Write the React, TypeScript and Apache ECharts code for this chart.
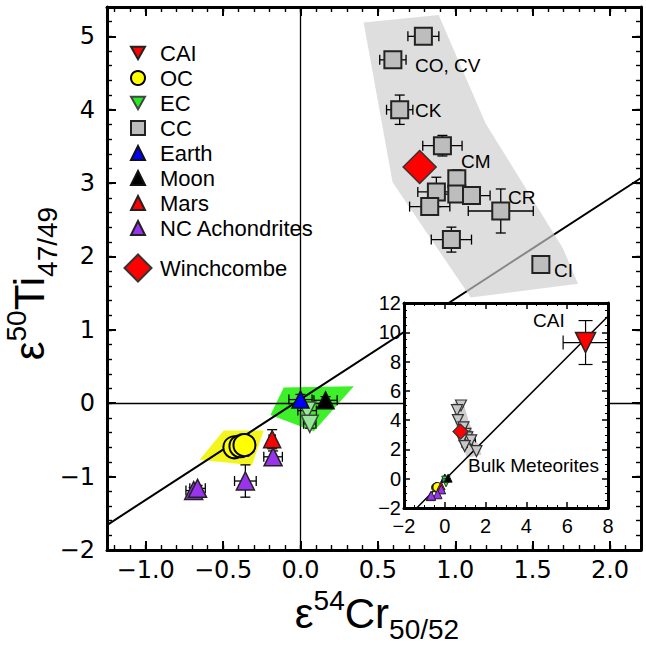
import React, { useEffect, useRef } from 'react';
import * as echarts from 'echarts';

// ---------- data: [x, y, xErr, yErr] ----------
const CAI = [[6.9, 9.3, 1.1, 1.5]];
const OC = [[-0.427, -0.6, 0, 0.1], [-0.388, -0.586, 0, 0.1], [-0.362, -0.57, 0, 0.15]];
const EC = [[0.043, -0.1, 0.06, 0.08], [0.06, -0.28, 0.04, 0.06]];
const EARTH = [[0, 0.05, 0.075, 0.07]];
const MOON = [[0.162, 0.04, 0.075, 0.05]];
const MARS = [[-0.183, -0.49, 0.02, 0.13]];
const NCA = [[-0.177, -0.73, 0.06, 0.08], [-0.356, -1.06, 0.07, 0.22], [-0.69, -1.19, 0.05, 0.04], [-0.665, -1.16, 0.05, 0.04]];
const CC = [
  [0.794, 5.0, 0.1, 0], [0.597, 4.68, 0.085, 0], [0.641, 4.0, 0.085, 0.2], [0.917, 3.51, 0.127, 0.14],
  [1.01, 3.06, 0, 0.12], [0.878, 2.88, 0.12, 0.2], [1.01, 2.85, 0.1, 0.1], [1.105, 2.83, 0.12, 0.1],
  [0.835, 2.68, 0.13, 0.08], [1.294, 2.62, 0.21, 0.3], [0.975, 2.23, 0.13, 0.17], [1.553, 1.89, 0, 0],
];
const WINCHCOMBE = [[0.77, 3.22, 0, 0]];

// shaded fields
const CC_FIELD = [[0.408, 5.19], [0.893, 5.29], [1.197, 3.81], [1.696, 2.11], [1.793, 1.63], [1.1, 1.44], [0.595, 3.01]];
const EC_FIELD = [[-0.108, 0.214], [0.345, 0.23], [0.086, -0.38], [-0.194, -0.16]];
const OC_FIELD = [[-0.496, -0.37], [-0.238, -0.37], [-0.313, -0.845], [-0.652, -0.77]];

// reference lines
const MAIN_LINE = [[-1.25, -1.66], [2.2, 3.07]];
const INSET_LINE = [[-1.38, -2], [8, 11.1]];

// axis ranges / ticks
const X_RANGE = [-1.25, 2.2];
const Y_RANGE = [-2, 5.4];
const INSET_X = [-2, 8];
const INSET_Y = [-2, 12];

const LEGEND_MAIN = ['CAI', 'OC', 'EC', 'CC', 'Earth', 'Moon', 'Mars', 'NC Achondrites'];
const LEGEND_W = ['Winchcombe'];

const DOWN = 'path://M0,0L20,0L10,18Z';
const SANS = 'Liberation Sans';
const TICKFONT = 'DejaVu Sans';

function errSeries(name: string, data: number[][], xi: number, yi: number, cap: number, z: number, lw = 1.3) {
  return {
    type: 'custom', name, xAxisIndex: xi, yAxisIndex: yi, z, silent: true,
    data, dimensions: ['x', 'y', 'xe', 'ye'], encode: { x: 0, y: 1 },
    renderItem: (params: any, api: any) => {
      const x = api.value(0), y = api.value(1), xe = api.value(2), ye = api.value(3);
      const style = { stroke: '#000', lineWidth: lw };
      const ch: any[] = [];
      const ln = (x1: number, y1: number, x2: number, y2: number) => ch.push({ type: 'line', shape: { x1, y1, x2, y2 }, style });
      if (xe > 0) {
        const a = api.coord([x - xe, y]), b = api.coord([x + xe, y]);
        ln(a[0], a[1], b[0], b[1]);
        ln(a[0], a[1] - cap / 2, a[0], a[1] + cap / 2);
        ln(b[0], b[1] - cap / 2, b[0], b[1] + cap / 2);
      }
      if (ye > 0) {
        const a = api.coord([x, y - ye]), b = api.coord([x, y + ye]);
        ln(a[0], a[1], b[0], b[1]);
        ln(a[0] - cap / 2, a[1], a[0] + cap / 2, a[1]);
        ln(b[0] - cap / 2, b[1], b[0] + cap / 2, b[1]);
      }
      return { type: 'group', children: ch };
    },
  };
}

function polySeries(name: string, pts: number[][], xi: number, yi: number, fill: string, z: number) {
  return {
    type: 'custom', name, xAxisIndex: xi, yAxisIndex: yi, z, silent: true,
    data: pts, encode: { x: 0, y: 1 },
    renderItem: (params: any, api: any) => {
      if (params.dataIndex !== 0) return null;
      return { type: 'polygon', shape: { points: pts.map((p) => api.coord(p)) }, style: { fill, stroke: 'none' } };
    },
  };
}

function scat(name: string, data: number[][], xi: number, yi: number, symbol: string, size: number, color: string, z: number, border = '#222', bw = 1.5) {
  return {
    type: 'scatter', name, xAxisIndex: xi, yAxisIndex: yi, z, silent: true,
    data: data.map((d) => [d[0], d[1]]), symbol, symbolSize: size,
    itemStyle: { color, borderColor: border, borderWidth: bw, opacity: 1 },
    emphasis: { disabled: true },
  };
}

function lineSeries(name: string, pts: number[][], xi: number, yi: number, z: number, width: number, zeroColor: string, zeroWidth: number) {
  return {
    type: 'line', name, xAxisIndex: xi, yAxisIndex: yi, z, silent: true,
    data: pts, showSymbol: false, symbol: 'none',
    lineStyle: { color: '#000', width },
    markLine: {
      silent: true, symbol: ['none', 'none'], label: { show: false },
      lineStyle: { color: zeroColor, width: zeroWidth, type: 'solid' },
      emphasis: { disabled: true },
      data: [{ xAxis: 0 }, { yAxis: 0 }],
    },
  };
}

const fmtX = (v: number) => v.toFixed(1).replace('-', '\u2212');
const fmtY = (v: number) => String(Math.round(v * 100) / 100).replace('-', '\u2212');

function mainAxis(pos: string, range: number[], major: boolean, labels: boolean, extra: any) {
  return {
    type: 'value', gridIndex: 0, position: pos, min: range[0], max: range[1],
    axisLine: { show: major, onZero: false, lineStyle: { color: '#000', width: 3 } },
    axisTick: { show: true, inside: true, interval: 0, length: major ? 9 : 5, lineStyle: { color: '#000', width: major ? 2 : 1.4 } },
    axisLabel: { show: labels },
    splitLine: { show: false },
    ...extra,
  };
}

export default function App() {
  const ref = useRef<HTMLDivElement>(null);
  useEffect(() => {
    if (!ref.current) return;
    const chart = echarts.init(ref.current, null, { renderer: 'svg' });

    const ctx = document.createElement('canvas').getContext('2d')!;
    const measure = (t: string, font: string) => { ctx.font = font; return ctx.measureText(t).width; };
    const buildTitle = (pieces: [string, number, number][], cx: number, cy: number, rotation: number) => {
      const fonts = pieces.map((p) => `${p[1]}px "${SANS}"`);
      const widths = pieces.map((p, i) => measure(p[0], fonts[i]));
      const total = widths.reduce((a, b) => a + b, 0);
      let x = -total / 2;
      const children = pieces.map((p, i) => {
        const el = { type: 'text', x, y: p[2], style: { text: p[0], font: fonts[i], fill: '#000', align: 'left', verticalAlign: 'middle', textAlign: 'left', textVerticalAlign: 'middle' } };
        x += widths[i];
        return el;
      });
      return { type: 'group', x: cx, y: cy, rotation, children, z: 20 };
    };
    const label = (text: string, x: number, y: number, size: number, z = 6) => ({
      type: 'text', x, y, z,
      style: { text, font: `${size}px "${SANS}"`, fill: '#000', align: 'left', verticalAlign: 'middle', textAlign: 'left', textVerticalAlign: 'middle' },
    });

    const xLabel = { show: true, interval: 0, showMinLabel: false, showMaxLabel: false, margin: 8, color: '#000', fontFamily: TICKFONT, fontSize: 24, formatter: fmtX };
    const yLabel = { show: true, interval: 0, showMinLabel: true, showMaxLabel: false, margin: 12, color: '#000', fontFamily: TICKFONT, fontSize: 24, formatter: fmtY };

    const insetAxis = (dim: 'x' | 'y', pos: string, range: number[], labels: boolean) => ({
      type: 'value', gridIndex: 1, position: pos, min: range[0], max: range[1], interval: 2, z: 11,
      axisLine: { show: true, onZero: false, lineStyle: { color: '#000', width: 3 } },
      axisTick: { show: true, inside: true, interval: 0, length: 6, lineStyle: { color: '#000', width: 1.5 } },
      minorTick: { show: true, splitNumber: 4, length: 3, lineStyle: { color: '#000', width: 1 } },
      axisLabel: labels
        ? { show: true, interval: 0, margin: dim === 'x' ? 8 : 3, color: '#000', fontFamily: SANS, fontSize: 20, formatter: fmtY }
        : { show: false },
      splitLine: { show: false },
      minorSplitLine: { show: false },
    });

    const option: any = {
      animation: false,
      backgroundColor: '#fff',
      grid: [
        { left: 107, top: 7, width: 534, height: 543, containLabel: false },
        { left: 404, top: 303, width: 204, height: 205, containLabel: false },
      ],
      xAxis: [
        mainAxis('bottom', X_RANGE, true, true, { minInterval: 0.5, maxInterval: 0.5, axisLabel: xLabel }),
        mainAxis('bottom', X_RANGE, false, false, { minInterval: 0.1, maxInterval: 0.1 }),
        mainAxis('top', X_RANGE, true, false, { minInterval: 0.5, maxInterval: 0.5 }),
        mainAxis('top', X_RANGE, false, false, { minInterval: 0.1, maxInterval: 0.1 }),
        insetAxis('x', 'bottom', INSET_X, true),
        insetAxis('x', 'top', INSET_X, false),
      ],
      yAxis: [
        mainAxis('left', Y_RANGE, true, true, { interval: 1, axisLabel: yLabel }),
        mainAxis('left', Y_RANGE, false, false, { interval: 0.2 }),
        mainAxis('right', Y_RANGE, true, false, { interval: 1 }),
        mainAxis('right', Y_RANGE, false, false, { interval: 0.2 }),
        insetAxis('y', 'left', INSET_Y, true),
        insetAxis('y', 'right', INSET_Y, false),
      ],
      legend: [
        {
          data: LEGEND_MAIN.map((n) => (n === 'EC' ? { name: n, itemStyle: { color: '#22ee22' } } : { name: n })),
          orient: 'vertical', left: 130, top: 40.5, padding: 0, itemWidth: 14, itemHeight: 14, itemGap: 0,
          selectedMode: false, textStyle: { fontFamily: SANS, fontSize: 22, color: '#000', lineHeight: 25, padding: [0, 0, 0, 10] },
        },
        {
          data: LEGEND_W, orient: 'vertical', left: 123.5, top: 253.5, padding: 0, itemWidth: 27, itemHeight: 27, itemGap: 0,
          selectedMode: false, textStyle: { fontFamily: SANS, fontSize: 22, color: '#000', lineHeight: 27, padding: [0, 0, 0, 3.5] },
        },
      ],
      graphic: {
        elements: [
          { type: 'rect', shape: { x: 404, y: 303, width: 204, height: 205 }, style: { fill: '#fff' }, z: 10 },
          label('CO, CV', 415, 65, 19),
          label('CK', 415, 110, 19),
          label('CM', 461, 161, 19),
          label('CR', 508, 197, 19),
          label('CI', 554, 270, 19),
          label('CAI', 533, 320, 19, 15),
          label('Bulk Meteorites', 468, 465, 19, 15),
          buildTitle([['\u03b5', 42, 0], ['54', 28, -13], ['Cr', 42, 0], ['50/52', 28, 16]], 377, 613.5, 0),
          buildTitle([['\u03b5', 42, 0], ['50', 28, -13], ['Ti', 42, 0], ['47/49', 28, 18]], 29.5, 283.5, Math.PI / 2),
        ],
      },
      series: [
        // main plot
        polySeries('OC field', OC_FIELD, 0, 0, '#f5f51e', 1),
        polySeries('EC field', EC_FIELD, 0, 0, '#3ef02a', 1),
        lineSeries('main line', MAIN_LINE, 0, 0, 2, 2, '#000', 1.3),
        polySeries('CC field', CC_FIELD, 0, 0, 'rgba(205,205,205,0.66)', 3),
        errSeries('OC err', OC, 0, 0, 10, 4),
        errSeries('EC err', EC, 0, 0, 10, 4),
        errSeries('Earth err', EARTH, 0, 0, 10, 4),
        errSeries('Moon err', MOON, 0, 0, 10, 4),
        errSeries('Mars err', MARS, 0, 0, 10, 4),
        errSeries('NC err', NCA, 0, 0, 10, 4),
        errSeries('CC err', CC, 0, 0, 10, 4),
        scat('OC', OC, 0, 0, 'circle', 22, '#ffff00', 5, '#000', 2),
        scat('EC', EC, 0, 0, DOWN, 17, '#98e698', 5, '#444', 1.5),
        scat('Earth', EARTH, 0, 0, 'triangle', 17, '#0000ff', 5, '#111', 1.5),
        scat('Moon', MOON, 0, 0, 'triangle', 17, '#000000', 5, '#111', 1.5),
        scat('Mars', MARS, 0, 0, 'triangle', 17, '#ff0000', 5, '#222', 1.5),
        scat('NC Achondrites', NCA, 0, 0, 'triangle', 18, '#9933ee', 5, '#222', 1.5),
        scat('CC', CC, 0, 0, 'rect', 17, '#bdbdbd', 5, '#222', 2),
        scat('Winchcombe', WINCHCOMBE, 0, 0, 'diamond', 33, '#ff0000', 6, '#333', 1.5),
        // inset
        polySeries('OC field inset', OC_FIELD, 4, 4, '#f5f51e', 12),
        polySeries('EC field inset', EC_FIELD, 4, 4, '#a8e8f0', 12),
        polySeries('CC field inset', CC_FIELD, 4, 4, '#cfcfcf', 12),
        lineSeries('inset line', INSET_LINE, 4, 4, 12, 1.5, '#333', 1),
        errSeries('CC err inset', CC, 4, 4, 4, 13, 1),
        errSeries('CAI err', CAI, 4, 4, 14, 13, 1.2),
        scat('OC inset', OC, 4, 4, 'circle', 9, '#ffff00', 14, '#000', 1),
        scat('Earth inset', EARTH, 4, 4, 'triangle', 8, '#0000ff', 14, '#111', 1),
        scat('EC inset', EC, 4, 4, DOWN, 8, '#22ee22', 14, '#333', 1),
        scat('Moon inset', MOON, 4, 4, 'triangle', 8, '#000', 14, '#111', 1),
        scat('Mars inset', MARS, 4, 4, 'triangle', 8, '#ff0000', 14, '#222', 1),
        scat('NC inset', NCA, 4, 4, 'triangle', 9, '#9933ee', 14, '#222', 1),
        scat('CC inset', CC, 4, 4, DOWN, 11, '#c8c8c8', 14, '#333', 1.2),
        scat('Winchcombe inset', WINCHCOMBE, 4, 4, 'diamond', 15, '#ff0000', 15, '#333', 1.2),
        scat('CAI', CAI, 4, 4, DOWN, 20, '#ff0000', 15, '#222', 1.5),
      ],
    };
    chart.setOption(option);
    return () => chart.dispose();
  }, []);
  return <div ref={ref} style={{ position: 'fixed', left: 0, top: 0, width: 646, height: 645 }} />;
}
